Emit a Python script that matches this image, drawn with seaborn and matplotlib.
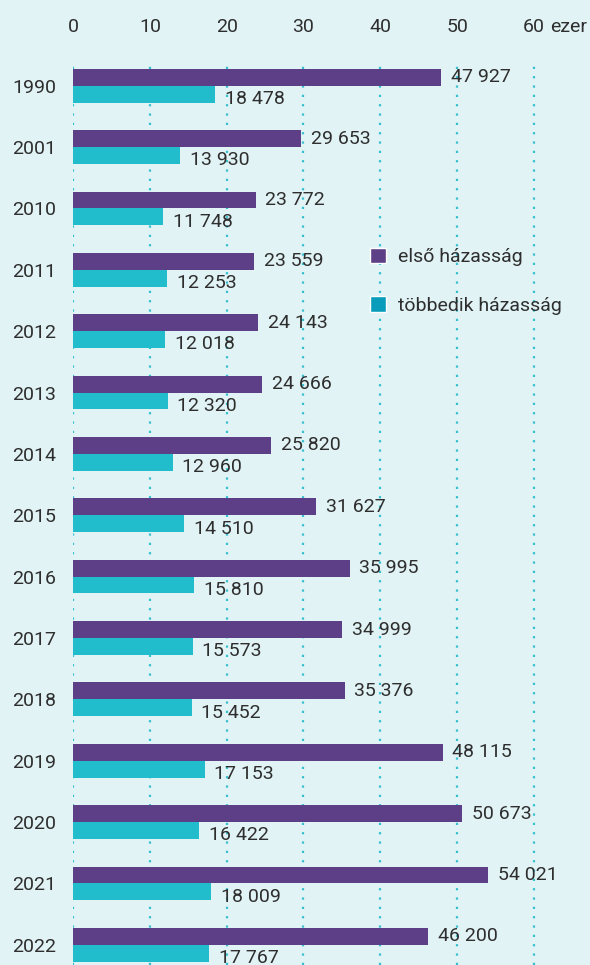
import matplotlib
matplotlib.use("Agg")
import matplotlib.pyplot as plt
from matplotlib.patches import Patch
import seaborn as sns
import pandas as pd

# Marriages in Hungary by order of marriage
years = ["1990", "2001", "2010", "2011", "2012", "2013", "2014", "2015",
         "2016", "2017", "2018", "2019", "2020", "2021", "2022"]
first_marriage = [47927, 29653, 23772, 23559, 24143, 24666, 25820, 31627,
                  35995, 34999, 35376, 48115, 50673, 54021, 46200]
repeat_marriage = [18478, 13930, 11748, 12253, 12018, 12320, 12960, 14510,
                   15810, 15573, 15452, 17153, 16422, 18009, 17767]
series_names = ["első házasság", "többedik házasság"]
x_ticks = [0, 10, 20, 30, 40, 50, 60]
x_unit = "ezer"

BG = "#e1f3f5"
PURPLE = "#5d3f88"
CYAN = "#22bdcd"
CYAN_KEY = "#0a9dbb"
GRID = "#35c0d0"
TEXT = "#2e2e2e"
FS = 14

sns.set_theme(style="white")
plt.rcParams["font.family"] = ["Roboto", "DejaVu Sans"]

df = pd.DataFrame({
    "year": years * 2,
    "value": [v / 1000 for v in first_marriage] + [v / 1000 for v in repeat_marriage],
    "type": [series_names[0]] * len(years) + [series_names[1]] * len(years),
})

fig = plt.figure(figsize=(5.9, 9.65), dpi=100, facecolor=BG)
ax = fig.add_axes([73 / 590, 0.0, 517 / 590, 1 - 60 / 965])
ax.set_facecolor(BG)

sns.barplot(data=df, y="year", x="value", hue="type", orient="h",
            palette=[PURPLE, CYAN], width=0.55, saturation=1,
            edgecolor="none", linewidth=0,
            legend=False, ax=ax, zorder=3)

ax.set_xlim(0, 67.3)
ax.set_ylim(14.33, -0.42)

# dotted vertical grid, scale labels on top
ax.set_xticks(x_ticks)
ax.xaxis.tick_top()
ax.tick_params(axis="x", length=0, pad=17, labelsize=FS, labelcolor=TEXT)
ax.tick_params(axis="y", length=0, pad=12, labelsize=FS, labelcolor=TEXT)
ax.xaxis.grid(True, color=GRID, linestyle=(0, (1, 3.2)), linewidth=1.6, zorder=0)
ax.yaxis.grid(False)
for s in ax.spines.values():
    s.set_visible(False)
ax.set_xlabel("")
ax.set_ylabel("")
# unit label on the same baseline as the scale labels
ax.annotate(x_unit, xy=(1.0, 1.0), xycoords="axes fraction",
            xytext=(-28.5, 17), textcoords="offset points",
            ha="left", va="bottom", fontsize=FS, color=TEXT)

# value labels
for container, values, dy in zip(ax.containers, [first_marriage, repeat_marriage], [0, -3.5]):
    for patch, v in zip(container.patches, values):
        ax.annotate(f"{v:,}".replace(",", " "),
                    xy=(patch.get_width(), patch.get_y() + patch.get_height() / 2),
                    xytext=(7, dy), textcoords="offset points",
                    ha="left", va="center", fontsize=FS, color=TEXT, zorder=4)

handles = [Patch(facecolor=PURPLE), Patch(facecolor=CYAN_KEY)]
ax.legend(handles, series_names, loc="upper left", bbox_to_anchor=(0.54, 0.812),
          frameon=False, fontsize=FS, labelcolor=TEXT, handlelength=0.85,
          handleheight=0.85, handletextpad=0.6, labelspacing=1.55)

fig.savefig("out.png", dpi=100, facecolor=BG)
